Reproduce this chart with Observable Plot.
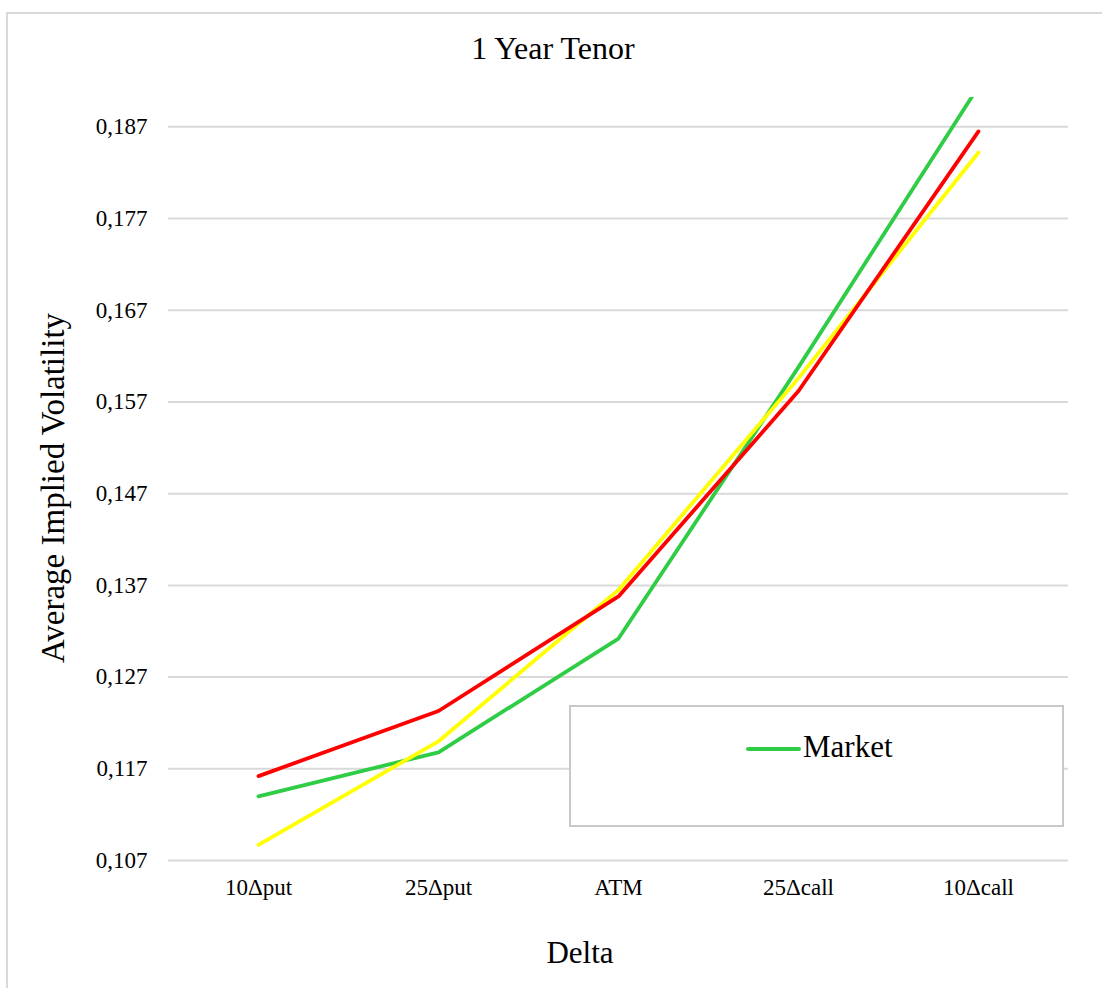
<!DOCTYPE html>
<html>
<head>
<meta charset="utf-8">
<script src="https://cdn.jsdelivr.net/npm/d3@7"></script>
<script src="https://cdn.jsdelivr.net/npm/@observablehq/plot@0.6"></script>
<style>
  html, body { margin: 0; padding: 0; background: #fff; }
  #wrap { position: relative; width: 1102px; height: 988px; font-family: "Liberation Serif", "Times New Roman", serif; color: #000; }
  #frame { position: absolute; left: 6px; top: 12px; width: 1100px; height: 980px; border: 2px solid #d9d9d9; box-sizing: border-box; }
  #chart { position: absolute; left: 0; top: 0; }
  .title { position: absolute; left: 0; width: 1102px; text-align: center; white-space: nowrap; }
  #ylabel { position: absolute; left: 53px; top: 488px; transform: translate(-50%, -50%) rotate(-90deg); white-space: nowrap; font-size: 33px; }
  #legend { position: absolute; left: 569px; top: 705px; width: 495px; height: 122px; border: 2px solid #c8c8c8; box-sizing: border-box; background: #fff; }
  #legend .swatch { position: absolute; left: 175px; top: 40px; width: 55px; height: 4px; background: #2fcc45; border-radius: 2px; }
  #legend .name { position: absolute; left: 232px; top: 22px; font-size: 31px; }
</style>
</head>
<body>
<div id="wrap">
  <div id="frame"></div>
  <div id="chart"></div>
  <div class="title" style="top:30px;font-size:32px;padding-left:2px;">1 Year Tenor</div>
  <div class="title" style="top:935px;font-size:31px;left:580px;width:0;display:flex;justify-content:center;">Delta</div>
  <div id="ylabel">Average Implied Volatility</div>
  <div id="legend"><div class="swatch"></div><div class="name">Market</div></div>
</div>
<script>
// Delta buckets along the smile
const categories = ["10Δput", "25Δput", "ATM", "25Δcall", "10Δcall"];

// Average implied volatility per bucket
const market   = [0.1140, 0.1188, 0.1312, 0.1608, 0.1914];
const modelRed = [0.1162, 0.1233, 0.1358, 0.1582, 0.1865];
const modelYel = [0.1087, 0.1200, 0.1365, 0.1596, 0.1842];

// Value axis ticks
const yTicks = [0.107, 0.117, 0.127, 0.137, 0.147, 0.157, 0.167, 0.177, 0.187];

const toRows = (vals) => categories.map((c, i) => ({ delta: c, vol: vals[i] }));
const fmt = (v) => d3.format(".3f")(v).replace(".", ",");

const chart = Plot.plot({
  width: 1102,
  height: 988,
  marginLeft: 168,
  marginRight: 34,
  marginTop: 97,
  marginBottom: 128,
  style: { fontFamily: "'Liberation Serif', 'Times New Roman', serif", fontSize: "23px", color: "#000", background: "transparent" },
  x: { type: "point", domain: categories, padding: 0.5, label: null },
  y: { domain: [0.107, 0.1902], label: null },
  marks: [
    Plot.gridY(yTicks, { stroke: "#d9d9d9", strokeOpacity: 1, strokeWidth: 2 }),
    Plot.axisY(yTicks, { tickSize: 0, tickPadding: 21, tickFormat: fmt, fontSize: 23, label: null }),
    Plot.axisX({ tickSize: 0, tickPadding: 18, fontSize: 23, label: null }),
    Plot.line(toRows(market),   { x: "delta", y: "vol", stroke: "#2fcc45", strokeWidth: 3.8, strokeLinecap: "round", clip: true }),
    Plot.line(toRows(modelYel), { x: "delta", y: "vol", stroke: "#ffff00", strokeWidth: 3.8, strokeLinecap: "round", clip: true }),
    Plot.line(toRows(modelRed), { x: "delta", y: "vol", stroke: "#ff0000", strokeWidth: 3.8, strokeLinecap: "round", clip: true })
  ]
});

document.getElementById("chart").appendChild(chart);
</script>
</body>
</html>
